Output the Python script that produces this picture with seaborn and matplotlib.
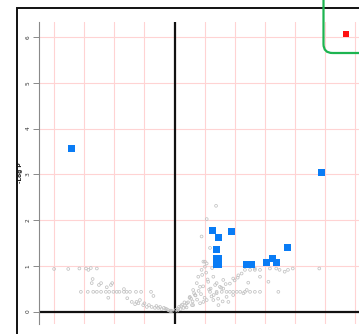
import matplotlib
matplotlib.use("Agg")
import matplotlib.pyplot as plt
from matplotlib.patches import Rectangle, FancyBboxPatch
import numpy as np
import pandas as pd
import seaborn as sns

# log2 fold change / -log10 p for non-significant features
gray_x = [-4.00, -3.53, -3.16, -2.94, -2.86, -2.78, -2.58, -2.72, -2.75, -2.51,
          -2.44, -2.25, -2.11, -2.07,
          -3.11, -2.88, -2.70, -2.58, -2.44, -2.28, -2.17, -2.03, -1.92, -1.83,
          -1.68, -1.59, -1.48, -1.28, -1.11, -0.78,
          -2.20, -1.68, -0.70,
          -1.57, -1.42, -1.31, -1.26, -1.15, -1.04, -0.92, -0.85, -0.76, -0.65,
          -0.54, -0.43, -0.35, -0.26, -0.21, -0.15, -0.09, -1.20, -1.00, -0.60,
          -0.48, -0.30, -0.12,
          1.38, 1.07, 0.90, 1.18, 1.01, 1.07,
          2.84, 2.67, 3.17, 3.38, 3.49, 3.66, 3.77, 3.93, 4.81, 3.12, 3.45, 1.79,
          2.84, 2.45,
          1.40, 1.57, 1.73, 1.84, 1.95, 2.07, 2.18, 2.34, 2.51, 2.67, 2.84,
          1.84, 1.95, 2.12, 2.23, 2.34, 2.51, 2.67, 1.62, 1.40, 1.23, 1.07, 0.85,
          0.62, 0.40,
          0.41, 0.51, 0.62, 0.74, 0.79, 0.90, 1.01, 0.96, 1.29, 1.12, 0.85, 0.68,
          1.18, 1.40, 1.51, 1.62, 1.73, 1.29, 0.96, 1.46, 1.95, 2.29, 2.40,
          0.10, 0.20, 0.30, 0.15, 0.25, 0.35, 0.45, 0.55, 0.70, 0.80, 0.60, 0.50,
          0.95, 1.10, 1.20, 1.35, 1.55, 1.70, 2.00, 2.10, 0.05, 0.12, 0.22, 0.33,
          0.75, 0.88, 1.00, 1.15, 1.30, 0.65, 0.58, 0.92, 1.05, 1.25, 1.45, 1.60]
gray_y = [0.93, 0.93, 0.94, 0.94, 0.91, 0.95, 0.94, 0.71, 0.62, 0.58,
          0.62, 0.53, 0.58, 0.62,
          0.43, 0.43, 0.43, 0.43, 0.43, 0.43, 0.43, 0.43, 0.43, 0.43,
          0.43, 0.43, 0.43, 0.43, 0.43, 0.43,
          0.30, 0.49, 0.34,
          0.29, 0.21, 0.16, 0.21, 0.25, 0.14, 0.10, 0.14, 0.10, 0.08,
          0.08, 0.05, 0.08, 0.05, 0.03, 0.01, 0.01, 0.18, 0.18, 0.12,
          0.10, 0.06, 0.02,
          2.31, 2.02, 1.64, 1.39, 1.09, 1.05,
          0.91, 0.91, 0.94, 0.94, 0.91, 0.87, 0.91, 0.94, 0.94, 0.65, 0.43, 0.21,
          0.76, 0.63,
          0.43, 0.43, 0.43, 0.43, 0.43, 0.43, 0.43, 0.43, 0.43, 0.43, 0.43,
          0.61, 0.72, 0.79, 0.83, 0.91, 0.91, 0.94, 0.50, 0.40, 0.33, 0.25, 0.18,
          0.14, 0.09,
          0.18, 0.32, 0.47, 0.62, 0.76, 0.91, 0.98, 1.09, 0.76, 0.65, 0.54, 0.36,
          0.43, 0.62, 0.54, 0.69, 0.32, 0.25, 0.21, 0.14, 0.36, 0.40, 0.47,
          0.02, 0.05, 0.08, 0.10, 0.15, 0.12, 0.20, 0.28, 0.35, 0.45, 0.22, 0.30,
          0.55, 0.70, 0.50, 0.58, 0.52, 0.60, 0.68, 0.74, 0.04, 0.06, 0.12, 0.20,
          0.26, 0.38, 0.30, 0.48, 0.36, 0.40, 0.14, 0.80, 0.85, 0.95, 0.28, 0.22]

# significant features
blue_x = [-3.41, 4.87, 1.25, 1.46, 1.88, 1.40, 1.38, 1.45, 1.38, 1.45,
          2.38, 2.56, 3.07, 3.27, 3.40, 3.74]
blue_y = [3.57, 3.03, 1.77, 1.62, 1.74, 1.36, 1.16, 1.16, 1.02, 1.02,
          1.02, 1.02, 1.08, 1.15, 1.08, 1.39]

# top hit
red_x = [5.70]
red_y = [6.07]

y_ticks = [0, 1, 2, 3, 4, 5, 6]
x_grid = [-4, -3, -2, -1, 0, 1, 2, 3, 4, 5, 6]

W, H = 359, 334
fig = plt.figure(figsize=(W / 100, H / 100), dpi=100)
fig.patch.set_facecolor("white")

# outer frame
fig.patches.append(Rectangle((17 / W, -0.2), 2.0, 1 - 7.5 / H + 0.2,
                             transform=fig.transFigure, fill=False,
                             edgecolor="#111111", linewidth=1.4))

ax_left, ax_top, ax_bot = 38.5, 22, 324
ax = fig.add_axes([ax_left / W, (H - ax_bot) / H, 1 - ax_left / W,
                   (ax_bot - ax_top) / H])
ax.set_facecolor("white")

x0_px, px_per_x = 174.5, 30.1
y0_px, px_per_y = 311.5, 45.75
ax.set_xlim((ax_left - x0_px) / px_per_x, (W - x0_px) / px_per_x)
ax.set_ylim((y0_px - ax_bot) / px_per_y, (y0_px - ax_top) / px_per_y)

for gx in x_grid:
    ax.axvline(gx, color="#ffd3d3", linewidth=0.8, zorder=0)
for gy in y_ticks:
    ax.axhline(gy, color="#ffd3d3", linewidth=0.8, zorder=0)

ax.axvline(0, color="#111111", linewidth=1.6, zorder=1)
ax.axhline(0, color="#111111", linewidth=1.6, zorder=1)

sns.scatterplot(x=gray_x, y=gray_y, ax=ax, marker="o", s=4,
                facecolor="none", edgecolor="#c2c2c2", linewidth=0.55,
                zorder=2, legend=False)
sns.scatterplot(x=blue_x, y=blue_y, ax=ax, marker="s", s=25,
                color="#0a7cf5", edgecolor="none", linewidth=0,
                zorder=3, legend=False)
sns.scatterplot(x=red_x, y=red_y, ax=ax, marker="s", s=19,
                color="#ff1010", edgecolor="none", linewidth=0,
                zorder=3, legend=False)

for side in ["top", "right", "bottom"]:
    ax.spines[side].set_visible(False)
ax.spines["left"].set_color("#8a8a8a")
ax.spines["left"].set_linewidth(0.8)

ax.set_xticks([])
ax.set_yticks(y_ticks)
ax.set_yticklabels([str(t) for t in y_ticks], rotation=90, va="center",
                   fontsize=4.2, color="#333333")
ax.tick_params(axis="y", length=4, width=0.7, color="#8a8a8a", pad=1.5)
ax.set_ylabel("-Log P", fontsize=4.2, color="#222222", fontweight="bold",
              labelpad=2)

# highlight box round the top hit
fig.patches.append(FancyBboxPatch((323.5 / W, 1 - 53 / H), 0.3, 0.3,
                                  boxstyle="round,pad=0,rounding_size=0.025",
                                  transform=fig.transFigure, fill=False,
                                  edgecolor="#1db450", linewidth=1.6,
                                  mutation_aspect=W / H))

fig.savefig("out.png", dpi=100)
